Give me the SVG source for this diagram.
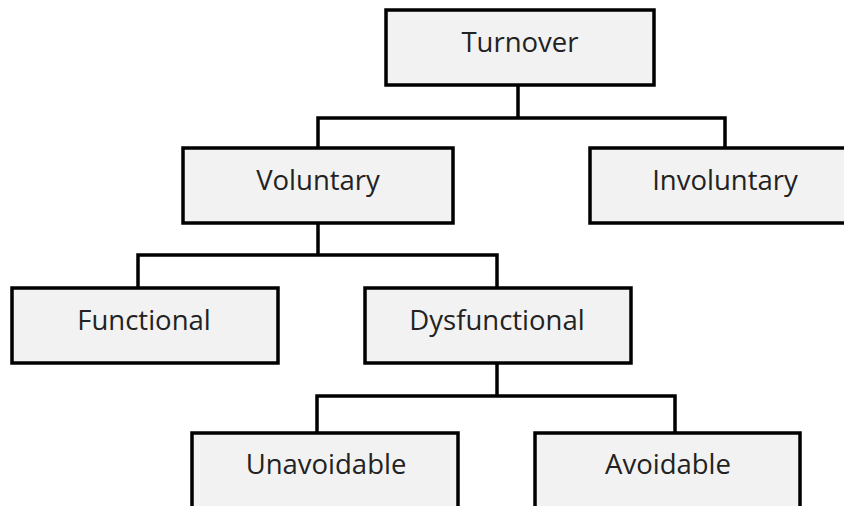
<svg xmlns="http://www.w3.org/2000/svg" width="844" height="506" viewBox="0 0 844 506">
  <style>
    .box { fill: #f2f2f2; stroke: #000; stroke-width: 3.5; }
    .label { font-family: "Open Sans", "Liberation Sans", sans-serif; font-size: 27.5px; fill: #222; text-anchor: middle; }
    .link { fill: none; stroke: #000; stroke-width: 3.5; stroke-linejoin: miter; }
  </style>
  <rect width="844" height="506" fill="#fff"/>

  <!-- connectors -->
  <g id="connectors">
    <path class="link" d="M518 85 V118 M318 148 V118 H725 V148"/>
    <path class="link" d="M318 223 V255 M138 288 V255 H497 V288"/>
    <path class="link" d="M497 363 V396 M317 433 V396 H675 V433"/>
  </g>

  <!-- nodes -->
  <g id="turnover">
    <rect class="box" x="386" y="10" width="268" height="75"/>
    <text class="label" x="520" y="52">Turnover</text>
  </g>
  <g id="voluntary">
    <rect class="box" x="183" y="148" width="270" height="75"/>
    <text class="label" x="318" y="190">Voluntary</text>
  </g>
  <g id="involuntary">
    <rect class="box" x="590" y="148" width="270" height="75"/>
    <text class="label" x="725" y="190">Involuntary</text>
  </g>
  <g id="functional">
    <rect class="box" x="12" y="288" width="266" height="75"/>
    <text class="label" x="144" y="330">Functional</text>
  </g>
  <g id="dysfunctional">
    <rect class="box" x="365" y="288" width="266" height="75"/>
    <text class="label" x="497" y="330">Dysfunctional</text>
  </g>
  <g id="unavoidable">
    <rect class="box" x="192" y="433" width="266" height="90"/>
    <text class="label" x="326" y="474">Unavoidable</text>
  </g>
  <g id="avoidable">
    <rect class="box" x="535" y="433" width="265" height="90"/>
    <text class="label" x="668" y="474">Avoidable</text>
  </g>
</svg>
